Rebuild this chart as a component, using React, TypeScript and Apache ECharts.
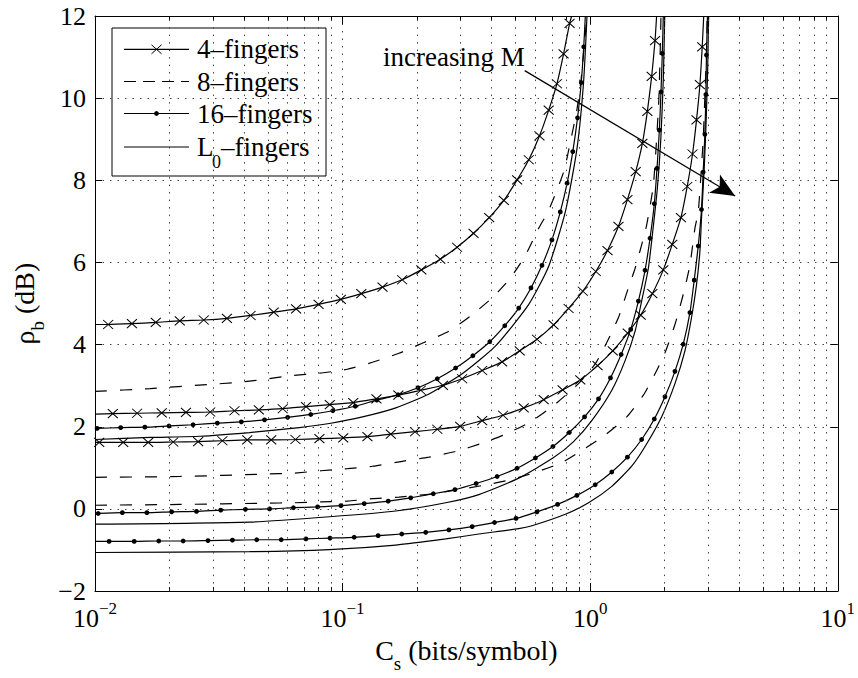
import React, { useEffect, useRef } from 'react';
import * as echarts from 'echarts';

const FONT = 'Liberation Serif';

// ---- axes ----
const X_MIN = 0.01;
const X_MAX = 10;
const Y_MIN = -2;
const Y_MAX = 12;
const Y_STEP = 2;
const X_MINOR = [0.02, 0.03, 0.04, 0.05, 0.06, 0.07, 0.08, 0.09, 0.2, 0.3, 0.4, 0.5, 0.6, 0.7, 0.8, 0.9, 2, 3, 4, 5, 6, 7, 8, 9];
const LEGEND_NAMES = ['4–fingers', '8–fingers', '16–fingers', 'L0–fingers'];

// ---- group 1 (lowest M) ----
const G1_4_START = [0.01, 4.49];
const G1_4 = [[0.0113, 4.49], [0.0141, 4.51], [0.0176, 4.54], [0.022, 4.58], [0.0275, 4.6], [0.0341, 4.64], [0.0425, 4.71], [0.0527, 4.79], [0.0649, 4.87], [0.08, 4.98], [0.0984, 5.1], [0.119, 5.24], [0.145, 5.4], [0.174, 5.58], [0.208, 5.82], [0.248, 6.08], [0.29, 6.37], [0.338, 6.71], [0.391, 7.09], [0.448, 7.51], [0.507, 8.01], [0.565, 8.5], [0.624, 9.08], [0.68, 9.71], [0.734, 10.35], [0.781, 11.08], [0.826, 11.82]];
const G1_4_END = [0.842, 12.0];
const G1_8 = [[0.01, 2.86], [0.0167, 2.93], [0.0217, 2.98], [0.029, 3.03], [0.0372, 3.08], [0.0476, 3.15], [0.061, 3.24], [0.0821, 3.31], [0.1044, 3.4], [0.132, 3.57], [0.169, 3.79], [0.213, 4.05], [0.269, 4.33], [0.329, 4.7], [0.402, 5.14], [0.476, 5.62], [0.548, 6.18], [0.619, 6.83], [0.68, 7.27], [0.781, 8.2], [0.831, 8.92], [0.884, 9.72], [0.919, 10.45], [0.949, 11.37], [0.971, 12.0]];
const G1_16 = [[0.0102, 1.96], [0.0127, 1.98], [0.0159, 1.99], [0.0199, 2.02], [0.0249, 2.05], [0.0312, 2.09], [0.039, 2.12], [0.0484, 2.17], [0.06, 2.23], [0.0744, 2.3], [0.0913, 2.39], [0.1125, 2.5], [0.1375, 2.65], [0.1676, 2.78], [0.2017, 2.95], [0.2413, 3.17], [0.2861, 3.43], [0.3359, 3.73], [0.3933, 4.07], [0.4519, 4.46], [0.5146, 4.89], [0.5768, 5.38], [0.6388, 5.93], [0.7007, 6.55], [0.7574, 7.23], [0.807, 7.93], [0.8507, 8.7], [0.8893, 9.52], [0.9204, 10.38], [0.9419, 11.25]];
const G1_16_END = [0.956, 12.0];
const G1_L0 = [[0.01, 1.69], [0.0167, 1.74], [0.0265, 1.77], [0.0421, 1.86], [0.0669, 1.98], [0.0884, 2.08], [0.1203, 2.24], [0.164, 2.46], [0.2234, 2.8], [0.304, 3.29], [0.415, 3.97], [0.565, 4.98], [0.68, 5.91], [0.7935, 7.23], [0.884, 8.76], [0.94, 10.37], [0.971, 12.0]];

// ---- group 2 ----
const G2_4_START = [0.01, 2.31];
const G2_4 = [[0.0118, 2.32], [0.0148, 2.33], [0.0186, 2.34], [0.0233, 2.35], [0.0292, 2.36], [0.0366, 2.39], [0.0459, 2.41], [0.0573, 2.44], [0.0712, 2.49], [0.0888, 2.54], [0.1104, 2.59], [0.137, 2.68], [0.168, 2.77], [0.2069, 2.89], [0.2543, 3.01], [0.304, 3.17], [0.3662, 3.37], [0.4408, 3.58], [0.5194, 3.85], [0.6098, 4.13], [0.7118, 4.48], [0.8181, 4.88], [0.9341, 5.3], [1.054, 5.78], [1.175, 6.29], [1.301, 6.88], [1.414, 7.53], [1.527, 8.21], [1.625, 8.9], [1.702, 9.68], [1.772, 10.53], [1.828, 11.4]];
const G2_4_END = [1.855, 12.0];
const G2_8 = [[0.01, 0.77], [0.022, 0.79], [0.0491, 0.85], [0.0629, 0.87], [0.0818, 0.93], [0.1047, 0.98], [0.132, 1.04], [0.1743, 1.16], [0.2234, 1.26], [0.2861, 1.4], [0.3662, 1.6], [0.4478, 1.8], [0.5736, 2.12], [0.7118, 2.52], [0.8977, 3.05], [1.048, 3.53], [1.167, 4.05], [1.301, 4.66], [1.405, 5.26], [1.519, 5.86], [1.614, 6.43], [1.691, 6.91], [1.799, 7.87], [1.855, 9.0], [1.894, 9.97], [1.92, 11.25], [1.932, 12.0]];
const G2_16 = [[0.0103, -0.11], [0.0129, -0.09], [0.0162, -0.09], [0.0204, -0.07], [0.0257, -0.06], [0.0322, -0.03], [0.0405, -0.01], [0.0507, 0.0], [0.0633, 0.03], [0.0793, 0.05], [0.0985, 0.08], [0.1223, 0.13], [0.1528, 0.19], [0.1885, 0.27], [0.2325, 0.37], [0.2843, 0.47], [0.3463, 0.62], [0.4209, 0.79], [0.5066, 0.99], [0.6008, 1.24], [0.7072, 1.52], [0.8234, 1.86], [0.949, 2.24], [1.081, 2.68], [1.208, 3.19], [1.334, 3.76], [1.458, 4.37], [1.566, 5.06], [1.666, 5.81], [1.745, 6.59], [1.816, 7.43], [1.862, 8.29], [1.903, 9.22], [1.932, 10.15], [1.956, 11.09]];
const G2_16_END = [1.974, 12.0];
const G2_L0 = [[0.01, -0.37], [0.0421, -0.32], [0.0884, -0.19], [0.164, -0.05], [0.2608, 0.15], [0.3551, 0.35], [0.5146, 0.75], [0.7118, 1.25], [0.857, 1.64], [1.015, 2.15], [1.223, 2.89], [1.384, 3.61], [1.519, 4.33], [1.614, 5.06], [1.718, 5.86], [1.783, 6.67], [1.867, 7.79], [1.929, 9.0], [1.974, 10.45], [2.001, 12.0]];

// ---- group 3 (highest M) ----
const G3_4 = [[0.0104, 1.62], [0.013, 1.62], [0.0164, 1.62], [0.0207, 1.63], [0.0261, 1.64], [0.0327, 1.66], [0.0412, 1.68], [0.0515, 1.68], [0.0645, 1.69], [0.0806, 1.71], [0.1006, 1.73], [0.126, 1.76], [0.1566, 1.82], [0.1962, 1.88], [0.2413, 1.94], [0.2986, 2.01], [0.3662, 2.15], [0.4449, 2.28], [0.5391, 2.46], [0.6489, 2.66], [0.7739, 2.9], [0.912, 3.14], [1.071, 3.49], [1.234, 3.85], [1.418, 4.28], [1.6, 4.72], [1.783, 5.24], [1.974, 5.82], [2.146, 6.44], [2.326, 7.09], [2.466, 7.85], [2.591, 8.64], [2.689, 9.47], [2.775, 10.33], [2.835, 11.25]];
const G3_4_START = [0.01, 1.62];
const G3_4_END = [2.875, 12.0];
const G3_8 = [[0.01, 0.09], [0.022, 0.11], [0.0491, 0.14], [0.0629, 0.15], [0.0818, 0.17], [0.1047, 0.19], [0.132, 0.25], [0.169, 0.29], [0.2167, 0.35], [0.2817, 0.45], [0.3662, 0.57], [0.469, 0.7], [0.6008, 0.89], [0.7688, 1.13], [0.9552, 1.48], [1.15, 1.8], [1.405, 2.24], [1.64, 2.77], [1.828, 3.29], [2.005, 3.8], [2.2, 4.49], [2.376, 5.22], [2.529, 5.94], [2.649, 6.83], [2.732, 7.23], [2.801, 8.11], [2.861, 9.0], [2.906, 10.05], [2.949, 11.09], [2.969, 12.0]];
const G3_16_START = [0.01, -0.79];
const G3_16 = [[0.0114, -0.79], [0.0144, -0.79], [0.0181, -0.78], [0.0227, -0.78], [0.0286, -0.77], [0.0359, -0.76], [0.045, -0.75], [0.0565, -0.75], [0.0711, -0.73], [0.089, -0.71], [0.1114, -0.69], [0.1392, -0.65], [0.1734, -0.61], [0.2167, -0.57], [0.2689, -0.51], [0.3338, -0.43], [0.4108, -0.33], [0.5019, -0.23], [0.6098, -0.07], [0.7387, 0.11], [0.884, 0.33], [1.048, 0.59], [1.223, 0.9], [1.414, 1.26], [1.614, 1.69], [1.816, 2.19], [2.005, 2.73], [2.2, 3.35], [2.376, 4.01], [2.529, 4.78], [2.632, 5.57], [2.732, 6.4], [2.816, 7.29], [2.861, 8.2], [2.906, 9.12], [2.933, 10.09], [2.949, 11.05]];
const G3_16_END = [2.977, 12.0];
const G3_L0 = [[0.01, -1.06], [0.0421, -1.04], [0.0884, -0.99], [0.164, -0.88], [0.2608, -0.73], [0.3551, -0.61], [0.5146, -0.48], [0.582, -0.41], [0.7935, -0.13], [0.985, 0.15], [1.223, 0.55], [1.471, 1.04], [1.666, 1.52], [1.943, 2.24], [2.2, 3.05], [2.414, 3.85], [2.567, 4.66], [2.689, 5.46], [2.775, 6.27], [2.816, 7.07], [2.888, 8.28], [2.942, 9.48], [2.982, 10.69], [3.01, 12.0]];

// annotation arrow (data coordinates)
const ARROW_FROM = [0.544, 10.67];
const ARROW_TO = [3.85, 7.62];

// ---- styles ----
const BLACK = '#000';
const LINE_W = 1.2;
const DASH = [12, 13];
const GRID_STYLE = { color: '#444', width: 1, type: [1.5, 6] };
const X_SYMBOL = 'path://M0,0L10,10M10,0L0,10';

function withEnds(markers: number[][], start?: number[], end?: number[]) {
  const d: any[] = [];
  if (start) d.push({ value: start, symbol: 'none' });
  markers.forEach((m) => d.push({ value: m }));
  if (end) d.push({ value: end, symbol: 'none' });
  return d;
}

function base(name: string, data: any[]) {
  return {
    type: 'line',
    name,
    data,
    xAxisIndex: 0,
    yAxisIndex: 0,
    clip: true,
    smooth: 0.2,
    silent: true,
    z: 3,
    showAllSymbol: true,
    emphasis: { disabled: true },
  };
}

function xSeries(name: string, data: any[]) {
  return {
    ...base(name, data),
    symbol: X_SYMBOL,
    symbolSize: [10, 9],
    itemStyle: { color: BLACK, borderColor: BLACK, borderWidth: 1 },
    lineStyle: { color: BLACK, width: LINE_W, type: 'solid' },
  };
}
function dotSeries(name: string, data: any[]) {
  return {
    ...base(name, data),
    symbol: 'circle',
    symbolSize: 4.8,
    itemStyle: { color: BLACK, borderWidth: 0 },
    lineStyle: { color: BLACK, width: LINE_W, type: 'solid' },
  };
}
function plainSeries(name: string, data: number[][], dashed: boolean) {
  return {
    ...base(name, data.map((v) => ({ value: v }))),
    symbol: 'none',
    lineStyle: { color: BLACK, width: LINE_W, type: dashed ? DASH : 'solid' },
  };
}

const AXIS_LINE = { color: BLACK, width: 1 };
const SUB_RICH = {
  a: { fontFamily: FONT, fontSize: 28, color: BLACK, lineHeight: 30, verticalAlign: 'top' },
  s: { fontFamily: FONT, fontSize: 19, color: BLACK, lineHeight: 19, padding: [18, 0, 0, 0], verticalAlign: 'top' },
};

function xMajor(position: 'bottom' | 'top', labels: boolean) {
  return {
    type: 'log',
    logBase: 10,
    min: X_MIN,
    max: X_MAX,
    position,
    splitNumber: 3,
    axisLine: { show: true, onZero: false, lineStyle: AXIS_LINE },
    axisTick: { show: true, inside: true, length: 8, lineStyle: AXIS_LINE },
    minorTick: { show: false },
    axisLabel: labels
      ? {
          show: true,
          margin: 9,
          showMinLabel: true,
          showMaxLabel: true,
          formatter: (v: number) => {
            const e = Math.round(Math.log10(v));
            return `{b|10}{s|${e < 0 ? '−' + -e : e}}`;
          },
          rich: {
            b: { fontFamily: FONT, fontSize: 26, color: BLACK, lineHeight: 36, verticalAlign: 'middle' },
            s: { fontFamily: FONT, fontSize: 17, color: BLACK, lineHeight: 14, verticalAlign: 'top' },
          },
        }
      : { show: false },
    splitLine: labels ? { show: true, lineStyle: GRID_STYLE } : { show: false },
    ...(labels
      ? {
          name: '{a|C}{s|s}{a| (bits/symbol)}',
          nameLocation: 'middle',
          nameGap: 35,
          nameTextStyle: { rich: SUB_RICH },
        }
      : {}),
  };
}
function xMinor(position: 'bottom' | 'top') {
  return {
    type: 'value',
    min: Math.log10(X_MIN),
    max: Math.log10(X_MAX),
    position,
    axisLine: { show: false, onZero: false },
    axisTick: { show: true, inside: true, length: 4, lineStyle: AXIS_LINE, customValues: X_MINOR.map((v) => Math.log10(v)) },
    axisLabel: { show: false },
    splitLine: { show: false },
  };
}
function yAxisDef(position: 'left' | 'right', labels: boolean) {
  return {
    type: 'value',
    min: Y_MIN,
    max: Y_MAX,
    interval: Y_STEP,
    position,
    axisLine: { show: true, onZero: false, lineStyle: AXIS_LINE },
    axisTick: { show: true, inside: true, length: 7, lineStyle: AXIS_LINE },
    axisLabel: labels
      ? {
          show: true,
          margin: 9,
          fontFamily: FONT,
          fontSize: 26,
          color: BLACK,
          formatter: (v: number) => (v < 0 ? '−' + -v : String(v)),
        }
      : { show: false },
    splitLine: labels ? { show: true, lineStyle: GRID_STYLE } : { show: false },
    ...(labels
      ? {
          name: '{a|ρ}{s|b}{a| (dB)}',
          nameLocation: 'middle',
          nameGap: 46,
          nameRotate: 90,
          nameTextStyle: { rich: SUB_RICH },
        }
      : {}),
  };
}

// legend drawn with graphic elements (layout in pixels)
function legendGraphic() {
  const L = 112, T = 28, W = 214, H = 148;
  const x0 = 124, x1 = 189, xm = 156.5, tx = 197;
  const rows = [49.3, 81.5, 113.5, 147];
  const txt = (x: number, y: number, text: string, size = 27) => ({
    type: 'text',
    x,
    y,
    style: { text, fontFamily: FONT, fontSize: size, fill: BLACK, verticalAlign: 'middle', align: 'left' },
  });
  const els: any[] = [
    { type: 'rect', shape: { x: L, y: T, width: W, height: H }, style: { fill: '#fff', stroke: BLACK, lineWidth: 1 } },
    { type: 'line', shape: { x1: x0, y1: rows[0], x2: x1, y2: rows[0] }, style: { stroke: BLACK, lineWidth: LINE_W } },
    { type: 'line', shape: { x1: xm - 5, y1: rows[0] - 4.5, x2: xm + 5, y2: rows[0] + 4.5 }, style: { stroke: BLACK, lineWidth: 1 } },
    { type: 'line', shape: { x1: xm - 5, y1: rows[0] + 4.5, x2: xm + 5, y2: rows[0] - 4.5 }, style: { stroke: BLACK, lineWidth: 1 } },
    { type: 'line', shape: { x1: x0, y1: rows[1], x2: x1, y2: rows[1] }, style: { stroke: BLACK, lineWidth: LINE_W, lineDash: [12, 7] } },
    { type: 'line', shape: { x1: x0, y1: rows[2], x2: x1, y2: rows[2] }, style: { stroke: BLACK, lineWidth: LINE_W } },
    { type: 'circle', shape: { cx: xm, cy: rows[2], r: 2.4 }, style: { fill: BLACK } },
    { type: 'line', shape: { x1: x0, y1: rows[3], x2: x1, y2: rows[3] }, style: { stroke: BLACK, lineWidth: LINE_W } },
    txt(tx, rows[0], '4–fingers'),
    txt(tx, rows[1], '8–fingers'),
    txt(tx, rows[2], '16–fingers'),
    txt(tx, rows[3], 'L'),
    txt(tx + 15, rows[3] + 15, '0', 18),
    txt(tx + 24, rows[3], '–fingers'),
  ];
  return { type: 'group', z: 100, children: els };
}

function buildOption() {
  const series: any[] = [
    // minor vertical grid lines
    {
      type: 'line',
      data: [[X_MIN, Y_MIN - 5]],
      symbol: 'none',
      silent: true,
      z: 1,
      markLine: {
        silent: true,
        symbol: ['none', 'none'],
        label: { show: false },
        lineStyle: GRID_STYLE,
        emphasis: { disabled: true },
        data: X_MINOR.map((v) => ({ xAxis: v })),
      },
    },
    xSeries(LEGEND_NAMES[0], withEnds(G1_4, G1_4_START, G1_4_END)),
    plainSeries(LEGEND_NAMES[1], G1_8, true),
    dotSeries(LEGEND_NAMES[2], withEnds(G1_16, undefined, G1_16_END)),
    plainSeries(LEGEND_NAMES[3], G1_L0, false),
    xSeries(LEGEND_NAMES[0], withEnds(G2_4, G2_4_START, G2_4_END)),
    plainSeries(LEGEND_NAMES[1], G2_8, true),
    dotSeries(LEGEND_NAMES[2], withEnds(G2_16, undefined, G2_16_END)),
    plainSeries(LEGEND_NAMES[3], G2_L0, false),
    xSeries(LEGEND_NAMES[0], withEnds(G3_4, G3_4_START, G3_4_END)),
    plainSeries(LEGEND_NAMES[1], G3_8, true),
    dotSeries(LEGEND_NAMES[2], withEnds(G3_16, G3_16_START, G3_16_END)),
    plainSeries(LEGEND_NAMES[3], G3_L0, false),
    // annotation arrow
    {
      type: 'line',
      data: [[X_MIN, Y_MIN - 5]],
      symbol: 'none',
      silent: true,
      z: 5,
      markLine: {
        silent: true,
        label: { show: false },
        emphasis: { disabled: true },
        lineStyle: { color: BLACK, width: 1.2, type: 'solid' },
        data: [[
          { coord: ARROW_FROM, symbol: 'none' },
          { coord: ARROW_TO, symbol: 'arrow', symbolSize: [16, 24] },
        ]],
      },
    },
  ];

  return {
    animation: false,
    backgroundColor: '#fff',
    grid: { left: 95, right: 18, top: 16, bottom: 82, containLabel: false },
    xAxis: [xMajor('bottom', true), xMajor('top', false), xMinor('bottom'), xMinor('top')],
    yAxis: [yAxisDef('left', true), yAxisDef('right', false)],
    series,
    graphic: [
      legendGraphic(),
      {
        type: 'text',
        z: 100,
        x: 383,
        y: 57,
        style: { text: 'increasing M', fontFamily: FONT, fontSize: 27, fill: BLACK, verticalAlign: 'middle', align: 'left' },
      },
    ],
  };
}

export default function App() {
  const ref = useRef<HTMLDivElement>(null);
  useEffect(() => {
    if (!ref.current) return;
    const chart = echarts.init(ref.current, null, { renderer: 'svg' });
    chart.setOption(buildOption() as any);
    return () => chart.dispose();
  }, []);
  return (
    <div
      ref={ref}
      style={{ position: 'fixed', left: 0, top: 0, width: 858, height: 678, background: '#fff' }}
    />
  );
}
